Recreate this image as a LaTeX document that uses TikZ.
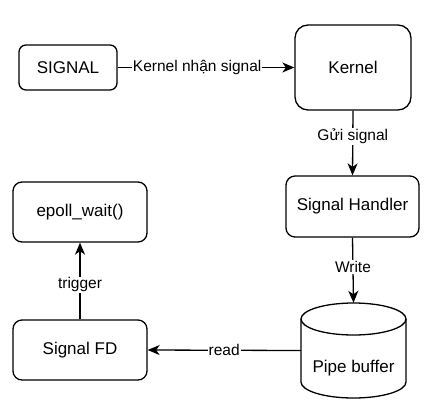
\documentclass[tikz,border=0pt]{standalone}
\usepackage{fontspec}
\setmainfont{Liberation Sans}
\usetikzlibrary{arrows.meta}
\begin{document}
\begin{tikzpicture}[x=1pt,y=1pt,
  box/.style={draw=black, line width=1.3pt, fill=white, rounded corners=#1, inner sep=0pt,
    font=\fontsize{17}{20}\selectfont},
  box/.default=9pt,
  conn/.style={draw=black, line width=1.3pt, -{Stealth[length=12pt,width=10pt,inset=3.5pt]}},
  lbl/.style={fill=white, inner sep=1pt, font=\fontsize{15.5}{18}\selectfont}
]
\useasboundingbox (0,0) rectangle (435,-418);
\fill[white] (0,0) rectangle (435,-418);

\node[box=7pt, minimum width=98pt, minimum height=45pt] (sig) at (68,-67.5) {SIGNAL};
\node[box=13pt, minimum width=116pt, minimum height=85pt] (kern) at (353,-67.5) {Kernel};
\node[box=9pt, minimum width=133pt, minimum height=61pt] (hand) at (352.5,-206.5) {Signal Handler};
\node[box=9pt, minimum width=134pt, minimum height=60pt] (epoll) at (80,-212) {epoll\_wait()};
\node[box=9pt, minimum width=134pt, minimum height=60pt] (sfd) at (80,-350) {Signal FD};

% cylinder
\node[minimum width=105pt, minimum height=95pt, inner sep=0pt] (pipe) at (353.5,-350.5) {};
\draw[line width=1.3pt, fill=white]
  (301,-319) -- (301,-382) arc[start angle=180, end angle=360, x radius=52.5, y radius=16]
  -- (406,-319) arc[start angle=0, end angle=180, x radius=52.5, y radius=16] -- cycle;
\draw[line width=1.3pt] (301,-319) arc[start angle=180, end angle=360, x radius=52.5, y radius=16];
\node[font=\fontsize{17}{20}\selectfont, inner sep=0pt] (pipetext) at (353.5,-368) {Pipe buffer};

\draw[conn] (sig.east) -- (kern.west) node[lbl, pos=0.45] {Kernel nhận signal};
\draw[conn] (kern.south) -- (hand.north) node[lbl, pos=0.4] {Gửi signal};
\draw[conn] (hand.south) -- (pipe.north) node[lbl, pos=0.45] {Write};
\draw[conn] (pipe.west) -- (sfd.east) node[lbl, pos=0.5] {read};
\draw[conn] (sfd.north) -- (epoll.south) node[lbl, pos=0.45] {trigger};
\end{tikzpicture}
\end{document}
